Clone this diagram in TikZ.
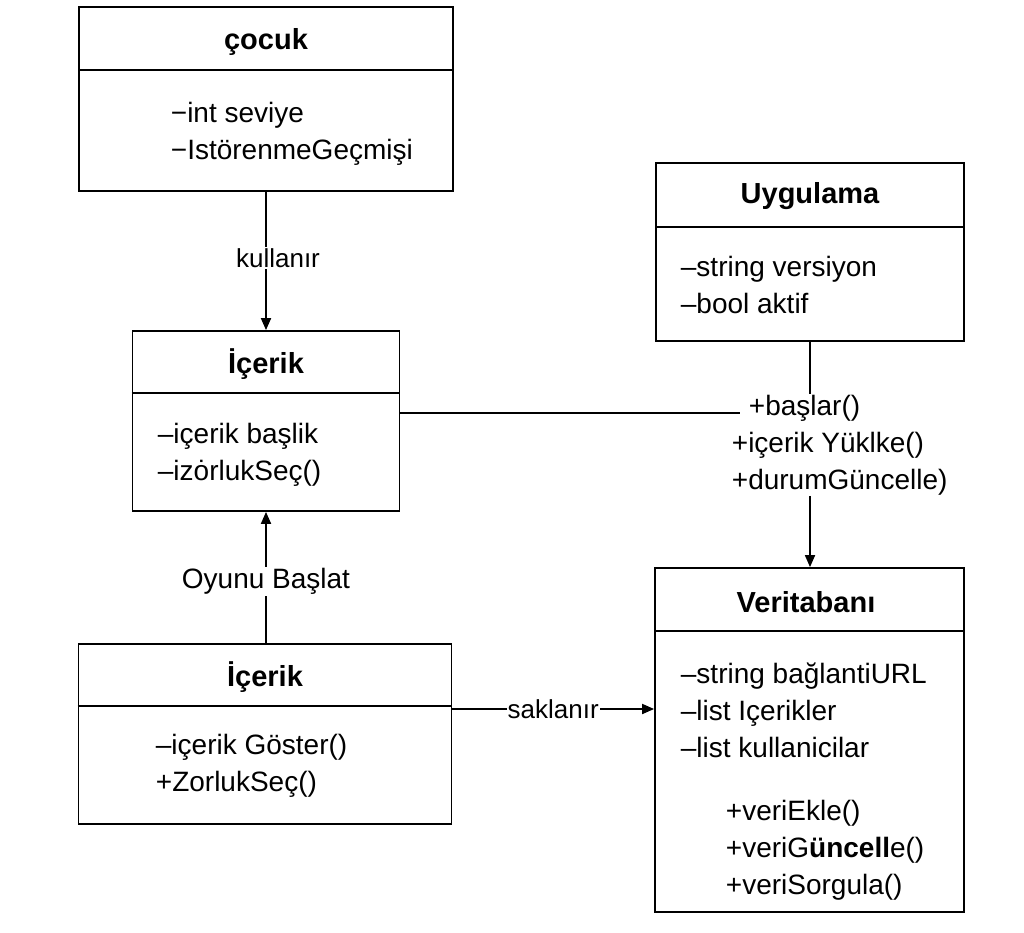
\documentclass[tikz,border=0pt]{standalone}
\usepackage{fontspec}
\setmainfont{Liberation Sans}
\usetikzlibrary{arrows.meta}

\begin{document}
\begin{tikzpicture}[x=1pt, y=-1pt, line width=1.8pt,
    >={Triangle[length=12pt,width=10pt]},
    font=\fontsize{28}{37}\selectfont]

        \useasboundingbox[fill=white] (0,0) rectangle (1024,933);

        \begin{scope}[every node/.style={rectangle, draw}]
          \node[minimum width=374pt, minimum height=184pt] (cocuk) at (266,99) {};
          \node[minimum width=308pt, minimum height=178pt] (uyg)   at (810,252) {};
          \node[minimum width=267pt, minimum height=180pt] (ic1)   at (266,421) {};
          \node[minimum width=373pt, minimum height=180pt] (ic2)   at (265,734) {};
          \node[minimum width=309pt, minimum height=344pt] (vt)    at (809.5,740) {};
        \end{scope}

        % dividers
        \draw (cocuk.west |- 0,70) -- (cocuk.east |- 0,70);
        \draw (uyg.west |- 0,227) -- (uyg.east |- 0,227);
        \draw (ic1.west |- 0,393) -- (ic1.east |- 0,393);
        \draw (ic2.west |- 0,706) -- (ic2.east |- 0,706);
        \draw (vt.west |- 0,631) -- (vt.east |- 0,631);

        \begin{scope}[every node/.style={font=\fontsize{29}{37}\selectfont\bfseries}]
          \node (cocukt) at (266,42)  {çocuk};
          \node (uygt)   at (810,196) {Uygulama};
          \node (ic1t)   at (266,364) {İçerik};
          \node (ic2t)   at (265,677) {İçerik};
          \node (vtt)    at (806,602) {Veritabanı};
        \end{scope}

        \begin{scope}[every node/.style={anchor=west, align=left, inner sep=0pt}]
          \node (cocuka) at (170,134) {−int seviye\\−IstörenmeGeçmişi};
          \node (uyga)   at (680,285) {–string versiyon\\–bool aktif};
          \node (ic1a)   at (157,455) {–içerik başlik\\–izȯrlukSeç()};
          \node (ic2a)   at (155,766) {–içerik Göster()\\+ZorlukSeç()};
          \node (vta)    at (680,710) {–string bağlantiURL\\–list Içerikler\\–list kullanicilar};
          \node (vtm)    at (725,850) {+veriEkle()\\+veriG\textbf{üncell}e()\\+veriSorgula()};
          \node (ops)    at (731,445) {\hspace*{17pt}+başlar()\\+içerik Yüklke()\\+durumGüncelle)};
        \end{scope}

        \begin{scope}[every node/.style={fill=white, inner sep=1pt, font=\fontsize{26}{32}\selectfont}]
          \path (cocuk) edge[->] node[xshift=12pt, yshift=3pt] {kullanır} (ic1);
          \path (ic2.north -| ic1) edge[->] node[yshift=-4pt, font=\fontsize{28}{32}\selectfont] {Oyunu Başlat} (ic1);
          \path ([yshift=25pt]ic2.east) edge[->] node {saklanır} ([yshift=25pt]ic2.east -| vt.west);
        \end{scope}

        \draw ([yshift=8pt]ic1.east) -- ([xshift=9pt,yshift=8pt]ic1.east -| ops.west);
        \draw (uyg) -- (uyg.south |- ops.north);
        \draw[->] (uyg.south |- ops.south) -- (uyg.south |- vt.north);

      \end{tikzpicture}
\end{document}
